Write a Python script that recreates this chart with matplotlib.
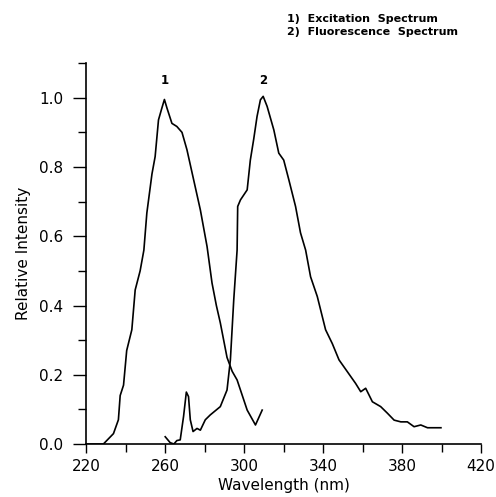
import matplotlib
matplotlib.use("Agg")
import matplotlib.pyplot as plt
from matplotlib.ticker import MultipleLocator

# Excitation spectrum (curve 1)
exc_wl = [220, 228.8, 233.9, 236.4, 237.3, 239.0, 240.6, 243.2, 244.9, 247.4, 249.3, 250.8,
          253.4, 255.0, 256.7, 258.4, 259.7, 261.0, 263.5, 266.0, 268.6, 271.1, 274.5,
          277.9, 281.3, 283.8, 286.0, 288.0, 291.4, 294.0, 296.5, 298.2, 301.6, 305.8, 309.2]
exc_int = [0.0, 0.0, 0.03, 0.07, 0.14, 0.17, 0.27, 0.33, 0.445, 0.50, 0.56, 0.667,
           0.78, 0.83, 0.936, 0.97, 0.995, 0.97, 0.926, 0.917, 0.90, 0.85, 0.763,
           0.676, 0.57, 0.465, 0.40, 0.35, 0.25, 0.21, 0.185, 0.156, 0.098, 0.055, 0.098]

# Fluorescence spectrum (curve 2)
flu_wl = [260.1, 262.6, 264.5, 266.0, 267.7, 269.4, 270.8, 271.9, 272.8, 274.2, 276.2,
          277.9, 280.4, 282.9, 288.0, 291.4, 293.1, 294.8, 296.5, 296.8, 298.2, 301.6,
          303.2, 304.9, 306.6, 308.3, 309.7, 311.7, 315.1, 317.6, 320.1, 322.7, 326.1,
          328.6, 331.2, 333.7, 337.1, 341.3, 344.7, 348.1, 352.3, 356.5, 359.1, 361.6,
          365.0, 369.2, 372.6, 376.0, 379.4, 382.7, 386.1, 389.5, 392.9, 399.7]
flu_int = [0.021, 0.004, 0.0, 0.01, 0.012, 0.08, 0.15, 0.137, 0.07, 0.036, 0.045,
           0.04, 0.07, 0.084, 0.108, 0.156, 0.243, 0.416, 0.56, 0.686, 0.705, 0.734,
           0.82, 0.88, 0.946, 0.994, 1.004, 0.975, 0.907, 0.84, 0.82, 0.763, 0.686,
           0.61, 0.56, 0.483, 0.426, 0.33, 0.29, 0.243, 0.209, 0.175, 0.151, 0.161,
           0.122, 0.108, 0.089, 0.069, 0.064, 0.064, 0.05, 0.055, 0.047, 0.047]

x_ticks = [220, 260, 300, 340, 380, 420]
y_ticks = [0.0, 0.2, 0.4, 0.6, 0.8, 1.0]

fig = plt.figure(figsize=(4.96, 4.97), dpi=100)
ax = fig.add_axes([0.1734, 0.1066, 0.7964, 0.7664])
ax.plot(exc_wl, exc_int, color="black", lw=1.2)
ax.plot(flu_wl, flu_int, color="black", lw=1.2)

ax.set_xlim(220, 420)
ax.set_ylim(0, 1.1)
ax.set_xticks(x_ticks)
ax.set_yticks(y_ticks)
ax.set_xticklabels([str(t) for t in x_ticks])
ax.set_yticklabels([f"{t:.1f}" for t in y_ticks])
ax.xaxis.set_minor_locator(MultipleLocator(20))
ax.yaxis.set_minor_locator(MultipleLocator(0.1))
ax.tick_params(which="both", direction="out", width=1.0, labelsize=11)
ax.tick_params(axis="x", which="major", length=6.5, pad=4)
ax.tick_params(axis="x", which="minor", length=6)
ax.tick_params(axis="y", which="major", length=9.5, pad=7)
ax.tick_params(axis="y", which="minor", length=6)
for s in ["top", "right"]:
    ax.spines[s].set_visible(False)
for s in ["left", "bottom"]:
    ax.spines[s].set_linewidth(1.2)

ax.set_xlabel("Wavelength (nm)", fontsize=11, labelpad=3)
ax.set_ylabel("Relative Intensity", fontsize=11, labelpad=6)

ax.text(259.8, 1.03, "1", ha="center", va="bottom", fontsize=8.5, fontweight="bold")
ax.text(309.5, 1.03, "2", ha="center", va="bottom", fontsize=8.5, fontweight="bold")

fig.text(0.578, 0.962, "1)  Excitation  Spectrum", fontsize=8, fontweight="bold",
         ha="left", va="center")
fig.text(0.578, 0.935, "2)  Fluorescence  Spectrum", fontsize=8, fontweight="bold",
         ha="left", va="center")

fig.savefig("out.png", dpi=100)
